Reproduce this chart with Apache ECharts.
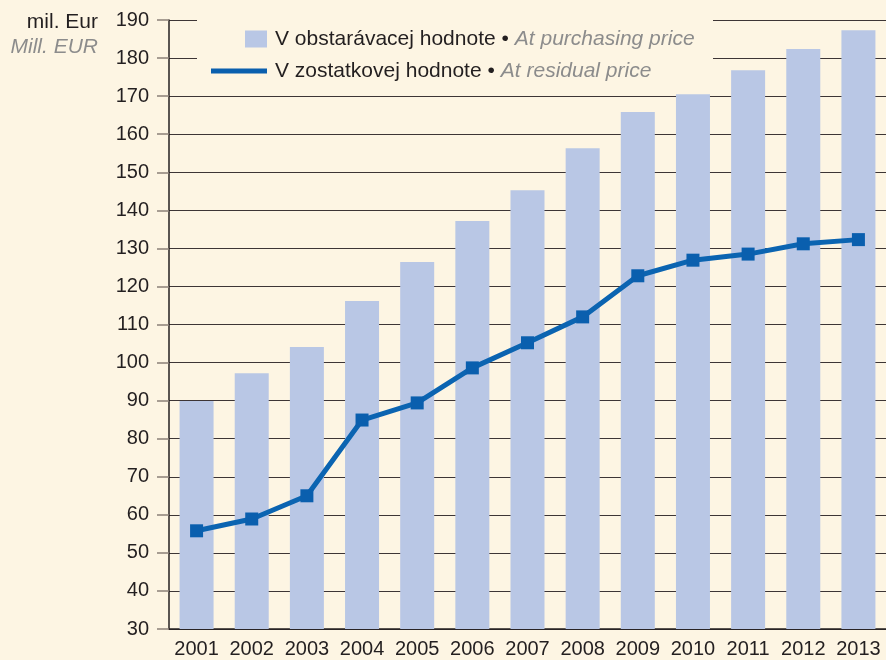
<!DOCTYPE html>
<html>
<head>
<meta charset="utf-8">
<script src="https://cdn.jsdelivr.net/npm/echarts@6/dist/echarts.min.js"></script>
<style>
  html, body { margin: 0; padding: 0; background: #fdf5e3; }
  #chart { width: 886px; height: 660px; }
</style>
</head>
<body>
<div id="chart"></div>
<script>
// roky
const years = ['2001', '2002', '2003', '2004', '2005', '2006', '2007', '2008', '2009', '2010', '2011', '2012', '2013']
// v obstaravacej hodnote (mil. Eur)
const purchasing = [89.9, 97.2, 104.1, 116.2, 126.4, 137.2, 145.3, 156.3, 165.8, 170.5, 176.8, 182.4, 187.3]
// v zostatkovej hodnote (mil. Eur)
const residual = [55.8, 58.9, 65.0, 84.9, 89.4, 98.6, 105.2, 112.0, 122.8, 126.9, 128.5, 131.2, 132.3]

const nameBar = 'V obstarávacej hodnote'
const nameLine = 'V zostatkovej hodnote'
const bg = '#fdf5e3'
const font = 'Liberation Sans, Arial, sans-serif'

const legendRich = {
  a: { color: '#231f20', fontSize: 21, fontFamily: font, padding: [0, 0, 0, 3] },
  b: { color: '#8c8c8c', fontSize: 21, fontFamily: font, fontStyle: 'italic', padding: [0, 0, 0, 6] }
}

let chart = echarts.init(document.getElementById('chart'))
chart.setOption({
  backgroundColor: bg,
  animation: false,
  grid: { left: 169, right: 0, top: 20, bottom: 31 },
  graphic: [
    // podklad legendy zakryva mriezku
    { type: 'rect', z: 1, shape: { x: 197, y: 5, width: 516, height: 80 }, style: { fill: bg } },
    { type: 'text', z: 5, style: { x: 98, y: 22, text: 'mil. Eur', textAlign: 'right', textVerticalAlign: 'middle', fill: '#231f20', font: '21px ' + font } },
    { type: 'text', z: 5, style: { x: 98, y: 47, text: 'Mill. EUR', textAlign: 'right', textVerticalAlign: 'middle', fill: '#8c8c8c', font: 'italic 21px ' + font } }
  ],
  legend: [
    {
      data: [{ name: nameBar, icon: 'rect' }],
      left: 245, top: 27, padding: 0,
      itemWidth: 22, itemHeight: 17,
      selectedMode: false,
      formatter: () => '{a|' + nameBar + ' •}{b|At purchasing price}',
      textStyle: { rich: legendRich, lineHeight: 24 }
    },
    {
      data: [{ name: nameLine, icon: 'rect' }],
      left: 211, top: 59, padding: 0,
      itemWidth: 56, itemHeight: 5,
      selectedMode: false,
      formatter: () => '{a|' + nameLine + ' •}{b|At residual price}',
      textStyle: { rich: legendRich, lineHeight: 24 }
    }
  ],
  xAxis: {
    type: 'category',
    data: years,
    axisLine: { lineStyle: { color: '#231f20', width: 1.5 } },
    axisTick: { show: false },
    axisLabel: { color: '#231f20', fontSize: 20, fontFamily: font, margin: 10, interval: 0 }
  },
  yAxis: {
    type: 'value',
    min: 30,
    max: 190,
    interval: 10,
    axisLine: { show: true, lineStyle: { color: '#231f20', width: 1.5 } },
    axisTick: { show: true, length: 12, lineStyle: { color: '#8a8078', width: 1.5 } },
    axisLabel: { color: '#231f20', fontSize: 20, fontFamily: font, margin: 20 },
    splitLine: { lineStyle: { color: '#3d3535', width: 1.2 } }
  },
  series: [
    {
      name: nameBar,
      type: 'bar',
      data: purchasing,
      barWidth: 34,
      itemStyle: { color: '#b9c7e5' }
    },
    {
      name: nameLine,
      type: 'line',
      data: residual,
      symbol: 'rect',
      symbolSize: 13,
      lineStyle: { color: '#0b64b1', width: 5 },
      itemStyle: { color: '#0a5fae' },
      z: 3
    }
  ]
})
</script>
</body>
</html>
